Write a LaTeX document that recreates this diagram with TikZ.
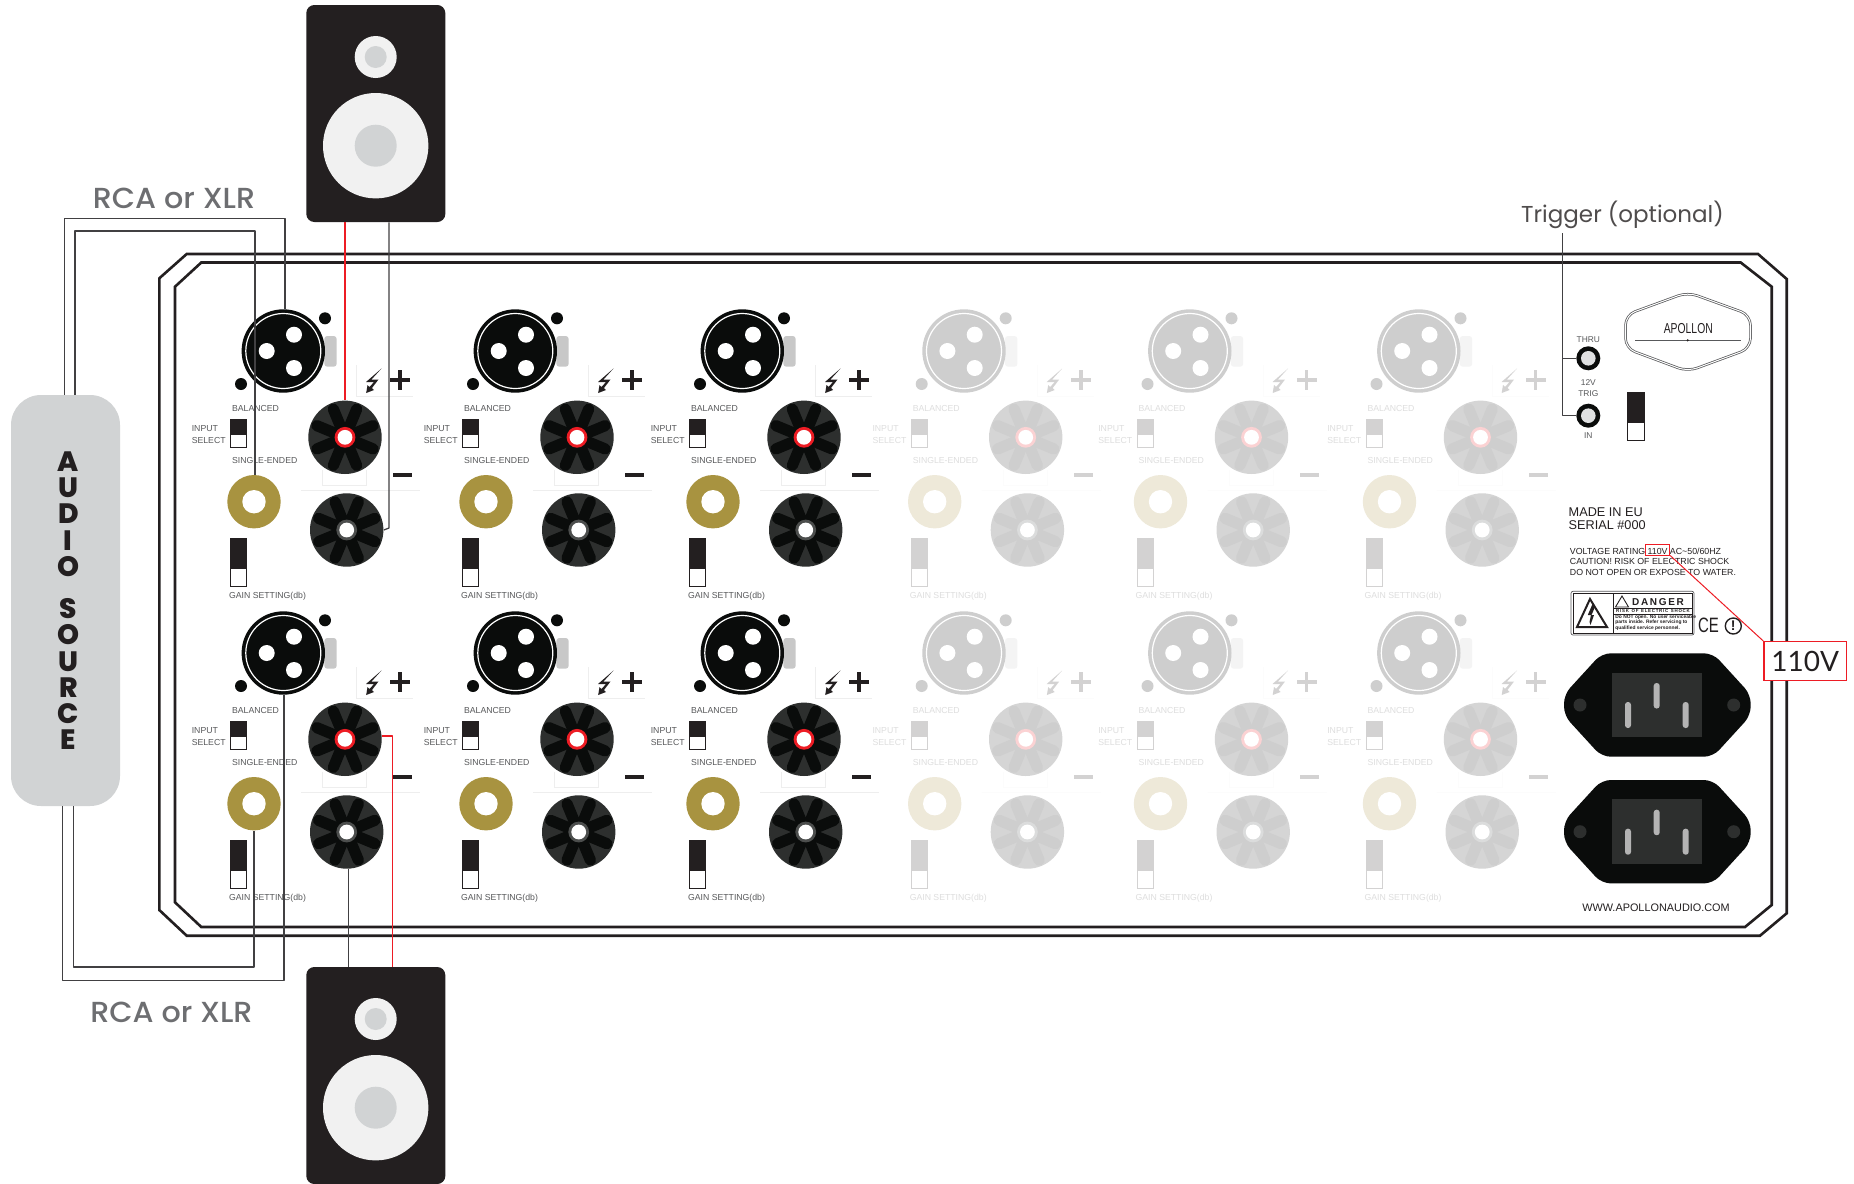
\documentclass[tikz,border=0pt]{standalone}
\usepackage{fontspec}
\usepackage{graphicx}
\setmainfont{Liberation Sans}
\newfontfamily\pop{Poppins}[UprightFont={* Medium}]
\newfontfamily\popl{Poppins}
\newfontfamily\lato{Lato}
\usetikzlibrary{calc}
\definecolor{bdark}{HTML}{231F20}
\definecolor{bblack}{HTML}{0A0C0B}
\definecolor{bbase}{HTML}{2D2F2E}
\definecolor{bgold}{HTML}{A89340}
\definecolor{bred}{HTML}{ED1C24}
\definecolor{bgrey}{HTML}{C8C8C8}
\definecolor{btext}{HTML}{58595B}
\definecolor{blabel}{HTML}{6D6E71}
\definecolor{bline}{HTML}{EEEEEE}
\definecolor{srcgrey}{HTML}{D1D3D4}
\definecolor{spkouter}{HTML}{F1F1F1}
\definecolor{wirec}{HTML}{414042}
\tikzset{
  lbl/.style={font=\fontsize{4.35}{5}\selectfont,inner sep=0pt,text=ctxt,anchor=west},
  ctr/.style={font=\fontsize{4.2}{5}\selectfont,inner sep=0pt,text=btext,anchor=center},
  info/.style={font=\fontsize{4.4}{5}\selectfont,inner sep=0pt,text=bdark,anchor=west},
  port/.style={circle,inner sep=0pt,minimum size=#1,draw=none},
  wire/.style={draw=wirec,line width=0.62pt,line join=round},
  redwire/.style={draw=bred,line width=0.62pt,line join=round},
  chassis/.style={draw=bdark,line width=1.3pt,line join=miter},
  biglabel/.style={font=\pop\fontsize{14.5}{16}\selectfont,text=blabel,inner sep=0pt},
  srcletter/.style={font=\pop\bfseries\fontsize{14}{15}\selectfont,text=bdark,inner sep=0pt},
}
\newcommand{\bpost}[5]{% name x y ringcolor ringradius
  \node[port=36.7pt] (#1) at (#2,#3) {};
  \fill[cbase] (#2,#3) circle[radius=36.7];
  \begin{scope}[shift={(#2,#3)}]
    \foreach \a in {22.5,67.5,...,337.5}
      \draw[cblack,line width=5.6pt,line cap=round] (\a:10) -- (\a:30.5);
  \end{scope}
  \fill[#4] (#2,#3) circle[radius=#5];
  \fill[white] (#2,#3) circle[radius=7.4];
}
\newcommand{\chan}[4]{% name ox oy pct
  \colorlet{cdk}{bdark!#4!white}
  \colorlet{cblack}{bblack!#4!white}
  \colorlet{cbase}{bbase!#4!white}
  \colorlet{cgold}{bgold!#4!white}
  \colorlet{cred}{bred!#4!white}
  \colorlet{ctab}{bgrey!#4!white}
  \colorlet{ctxt}{btext!#4!white}
  \colorlet{cln}{bline!#4!white}
  \begin{scope}[shift={(#2,#3)}]
    % faint lines
    \draw[cln,line width=0.4pt] (356.7,365) -- (356.7,396) -- (413,396);
    \draw[cln,line width=0.4pt] (322.7,470) -- (322.7,485) -- (366.7,485) -- (366.7,470);
    \draw[cln,line width=0.4pt] (301,490.7) -- (420,490.7);
    % XLR
    \fill[ctab,rounded corners=1.5pt] (324.3,336) rectangle (336.7,366.7);
    \node[port=41.7pt] (#1-xlr) at (283.3,351) {};
    \fill[cblack] (283.3,351) circle[radius=41.7];
    \draw[white,line width=0.6pt] (283.3,351) circle[radius=37.5];
    \fill[white] (294,334.7) circle[radius=8];
    \fill[white] (266.7,351) circle[radius=8];
    \fill[white] (294,368) circle[radius=8];
    \fill[cblack] (325,318.3) circle[radius=6];
    \fill[cblack] (241,384) circle[radius=6];
    % labels
    \node[lbl] (#1-bal) at (231.7,408) {BALANCED};
    \node[lbl] (#1-in1) at (191.4,429) {INPUT};
    \node[lbl] (#1-in2) at (191.4,440) {SELECT};
    \node[lbl] (#1-se) at (231.7,460) {SINGLE-ENDED};
    \node[lbl] (#1-gain) at (228.7,596) {GAIN SETTING(db)};
    % switches
    \draw[cdk,fill=white,line width=0.5pt] (230.8,420) rectangle (246.6,447.3);
    \fill[cdk] (230.3,419) rectangle (247,434.7);
    \draw[cdk,fill=white,line width=0.5pt] (230.8,540) rectangle (246.6,586.2);
    \fill[cdk] (230.3,538.3) rectangle (247,569.3);
    % RCA
    \node[port=26.7pt] (#1-rca) at (254,501.7) {};
    \fill[cgold] (254,501.7) circle[radius=26.7];
    \fill[white] (254,501.7) circle[radius=11.7];
    % posts
    \bpost{#1-p}{345}{437.3}{cred}{10.4}
    \bpost{#1-n}{346.7}{530}{cbase!85!white}{10.4}
    % lightning
    \fill[cdk] (381.5,368.5) -- (366,382) -- (374,382) -- (369.5,387) -- (367.5,385) -- (366.2,393) -- (374,390) -- (372,388) -- (378.5,379.5) -- (371.5,379.5) -- cycle;
    % plus, minus
    \fill[cdk] (390,377.9) rectangle (410,381.6);
    \fill[cdk] (398.1,369.7) rectangle (401.9,389.7);
    \fill[cdk] (393,473.2) rectangle (412,476.9);
  \end{scope}
}
\newcommand{\inlet}[2]{% name dy
  \begin{scope}[shift={(0,#2)}]
    \node[inner sep=0pt,minimum width=92.5pt,minimum height=52pt] (#1) at (1657.3,705) {};
    \fill[bblack,rounded corners=4.5pt] (1601.7,653.3) -- (1713,653.3) -- (1750.7,694.5) -- (1750.7,715.5) -- (1713,756.7) -- (1601.7,756.7) -- (1564,715.5) -- (1564,694.5) -- cycle;
    \fill[bbase] (1612.3,672.7) rectangle (1701.7,737.3);
    \fill[bgrey!90!black,rounded corners=1.4pt] (1653.7,683) rectangle (1659.7,708.5);
    \fill[bgrey!90!black,rounded corners=1.4pt] (1625,702) rectangle (1631,728);
    \fill[bgrey!90!black,rounded corners=1.4pt] (1682.7,702) rectangle (1688.7,728);
    \fill[bbase] (1580,705) circle[radius=6.5];
    \fill[bbase] (1733.7,705) circle[radius=6.5];
  \end{scope}
}
\newcommand{\speaker}[2]{% name dy
  \begin{scope}[shift={(0,#2)}]
    \node[inner sep=0pt,minimum width=69.5pt,minimum height=108.5pt] (#1) at (375.8,1075.5) {};
    \fill[bdark,rounded corners=4pt] (306.3,967) rectangle (445.3,1184);
    \fill[spkouter] (375.7,1019) circle[radius=21];
    \fill[srcgrey] (375.7,1019) circle[radius=11];
    \fill[spkouter] (375.7,1107.7) circle[radius=52.7];
    \fill[srcgrey] (375.7,1107.7) circle[radius=21];
  \end{scope}
}
\begin{document}
\begin{tikzpicture}[x=0.5pt,y=-0.5pt]
\useasboundingbox (0,0) rectangle (1854,1184);
\fill[white] (0,0) rectangle (1854,1184);
% chassis
\draw[chassis] (159.3,278.3) -- (186.7,254) -- (1758,254) -- (1786.7,279) -- (1786.7,913.3) -- (1760,935.7) -- (186.7,935.7) -- (159.3,910) -- cycle;
\draw[chassis] (175,286.7) -- (201.3,262.5) -- (1740.7,262.5) -- (1771.7,286.7) -- (1771.7,905) -- (1745,927) -- (201.3,927) -- (175,902.3) -- cycle;
% channels
\chan{a1}{0}{0}{100}
\chan{a2}{232}{0}{100}
\chan{a3}{459}{0}{100}
\chan{a4}{680.7}{0}{20}
\chan{a5}{906.5}{0}{20}
\chan{a6}{1135.5}{0}{20}
\chan{b1}{0}{302}{100}
\chan{b2}{232}{302}{100}
\chan{b3}{459}{302}{100}
\chan{b4}{680.7}{302}{20}
\chan{b5}{906.5}{302}{20}
\chan{b6}{1135.5}{302}{20}
% speakers
\speaker{spktop}{-962}
\speaker{spkbot}{0}
% audio source
\node[fill=srcgrey,rounded corners=15pt,minimum width=54.5pt,minimum height=205.5pt,inner sep=0pt] (src) at (65.5,600.5) {};
\foreach \n/\t/\y in {1/A/461.7,2/U/487.3,3/D/514,4/I/540.7,5/O/566.7,6/S/609,7/O/635,8/U/661.7,9/R/687.7,10/C/714,11/E/740}
  \node[srcletter] (srcl\n) at (68.3,\y) {\t};
% inlets
\inlet{iec1}{0}
\inlet{iec2}{126.7}
% trigger jacks
\node[port=12pt,fill=bblack] (thru) at (1588.3,358.3) {};
\fill[srcgrey!70!white] (thru) circle[radius=7.3];
\node[port=12pt,fill=bblack] (trin) at (1588.3,415.7) {};
\fill[srcgrey!70!white] (trin) circle[radius=7.3];
\node[ctr] (tthru) at (1588.3,340) {THRU};
\node[ctr] (t12v) at (1588.3,383) {12V};
\node[ctr] (ttrig) at (1588.3,394) {TRIG};
\node[ctr] (tin) at (1588.3,435.7) {IN};
% logo
\draw[btext,line width=1.25pt,rounded corners=5pt] (1687.7,292.2) -- (1750.5,315) -- (1750.5,348.3) -- (1687.7,371.5) -- (1625.5,348.3) -- (1625.5,315) -- cycle;
\draw[white,line width=0.5pt,rounded corners=5pt] (1687.7,292.2) -- (1750.5,315) -- (1750.5,348.3) -- (1687.7,371.5) -- (1625.5,348.3) -- (1625.5,315) -- cycle;
\node[inner sep=0pt,text=bdark] (logo) at (1688.3,328.3) {\scalebox{0.72}[1]{\fontsize{7.2}{8}\selectfont APOLLON}};
\draw[btext,line width=0.2pt] (1635,340.3) -- (1740.7,340.3);
\fill[bdark] (1687.7,340.3) circle[radius=1.2];
% right switch
\draw[bdark,fill=white,line width=0.5pt] (1627.5,392.5) rectangle (1644.5,440.5);
\fill[bdark] (1627,392) rectangle (1645,423.3);
% right text
\node[info,font=\fontsize{6.35}{7}\selectfont] (made) at (1568.3,512.3) {MADE IN EU};
\node[info,font=\fontsize{6.35}{7}\selectfont] (serial) at (1568.3,525) {SERIAL \#000};
\node[info] (v1) at (1569.5,551) {VOLTAGE RATING 110V AC\textasciitilde 50/60HZ};
\node[info] (v2) at (1569.5,561.7) {CAUTION! RISK OF ELECTRIC SHOCK};
\node[info] (v3) at (1569.5,572.7) {DO NOT OPEN OR EXPOSE TO WATER.};
\node[info,font=\fontsize{5.44}{6}\selectfont,anchor=center] (www) at (1656,908) {WWW.APOLLONAUDIO.COM};
% danger label
\draw[btext,line width=0.35pt,fill=white,rounded corners=1pt] (1571,591.3) rectangle (1694,635);
\draw[bdark,line width=0.5pt] (1573,593) rectangle (1692,633);
\draw[bdark,line width=0.5pt] (1613.3,593) -- (1613.3,633);
\draw[bdark,line width=0.5pt] (1613.3,608.3) -- (1692,608.3);
\draw[bdark,line width=0.5pt] (1613.3,614) -- (1692,614);
\draw[bdark,line width=1pt,line join=miter] (1577,627) -- (1590,599) -- (1607,627) -- cycle;
\fill[bdark] (1592.5,604) -- (1587.8,615) -- (1591,615) -- (1589.5,622) -- (1590.5,625) -- (1594,615) -- (1591.5,615) -- (1595,607) -- cycle;
\draw[bdark,line width=0.45pt,line join=miter] (1615.5,607) -- (1622,596) -- (1628.5,607) -- cycle;
\node[inner sep=0pt,text=bdark,font=\bfseries\fontsize{5}{6}\selectfont] (danger) at (1658,602.5) {D\,A\,N\,G\,E\,R};
\node[inner sep=0pt,text=bdark,font=\bfseries\fontsize{2.2}{3}\selectfont] (risk) at (1653,611.2) {R\,I\,S\,K\, \,O\,F\, \,E\,L\,E\,C\,T\,R\,I\,C\, \,S\,H\,O\,C\,K};
\node[inner sep=0pt,text=bdark,anchor=west,font=\bfseries\fontsize{2.45}{3}\selectfont] (d1) at (1615,617.5) {Do NOT open. No user serviceable};
\node[inner sep=0pt,text=bdark,anchor=west,font=\bfseries\fontsize{2.45}{3}\selectfont] (d2) at (1615,622.7) {parts inside. Refer servicing to};
\node[inner sep=0pt,text=bdark,anchor=west,font=\bfseries\fontsize{2.45}{3}\selectfont] (d3) at (1615,628.3) {qualified service personnel.};
\node[inner sep=0pt,text=bdark,font=\fontsize{10.4}{11}\selectfont] (ce) at (1708.5,625.7) {\scalebox{0.72}[1]{CE}};
\node[port=8pt,draw=bdark,line width=0.7pt] (warn) at (1733.3,626) {};
\node[inner sep=0pt,text=bdark,font=\bfseries\fontsize{7}{8}\selectfont] (warnt) at (warn) {!};
% labels
\node[biglabel] (rca1) at (174,198) {\scalebox{1.04}[1]{RCA or XLR}};
\node[biglabel] (rca2) at (171.4,1012) {\scalebox{1.04}[1]{RCA or XLR}};
\node[biglabel,font=\popl\fontsize{11.5}{14}\selectfont,text=bdark!80!white] (trig) at (1622.5,215) {Trigger (optional)};
% wires: source to first row
\coordinate (w1) at (64.3,218.7);
\coordinate (w2) at (285,218.7);
\coordinate (w3) at (75,231);
\coordinate (w4) at (255,231);
\draw[wire] (src.north -| w1) -- (w1) -- (w2) -- (a1-xlr.north -| w2);
\draw[wire] (src.north -| w3) -- (w3) -- (w4) -- (a1-rca.north -| w4);
% wires: source to second row
\coordinate (w5) at (62.7,980.3);
\coordinate (w6) at (284,980.3);
\coordinate (w7) at (73.7,967);
\coordinate (w8) at (254,967);
\draw[wire] (src.south -| w5) -- (w5) -- (w6) -- (b1-xlr.south -| w6);
\draw[wire] (src.south -| w7) -- (w7) -- (w8) -- (b1-rca.south);
% speaker wires
\draw[redwire] (a1-p.north |- spktop.south) -- (a1-p.north);
\coordinate (s1) at (389,528);
\draw[wire] (s1 |- spktop.south) -- (s1) -- (a1-n.east);
\coordinate (s2) at (348.7,900);
\draw[wire] (s2 |- spkbot.north) -- (s2 |- b1-n.south);
\coordinate (s3) at (392.7,736);
\draw[redwire] (s3 |- spkbot.north) -- (s3) -- (b1-p.east |- s3);
% trigger wires
\coordinate (w9) at (1562.3,233);
\coordinate (w10) at (1562.3,415.7);
\draw[wire] (w9) -- (w10) -- (trin.west);
\draw[wire] (w10 |- thru) -- (thru.west);
% 110V callout
\node[draw=bred,fill=white,line width=0.75pt,inner sep=0pt,minimum width=41.3pt,minimum height=19.3pt,font=\lato\fontsize{14}{15}\selectfont,text=bdark] (callout) at (1805.3,661) {110V};
\node[draw=bred,line width=0.45pt,inner sep=0pt,minimum width=12.2pt,minimum height=5.35pt] (small) at (1657.5,549.7) {};
\draw[bred,line width=0.5pt] (small.south east) -- (callout.north west);
\end{tikzpicture}
\end{document}
